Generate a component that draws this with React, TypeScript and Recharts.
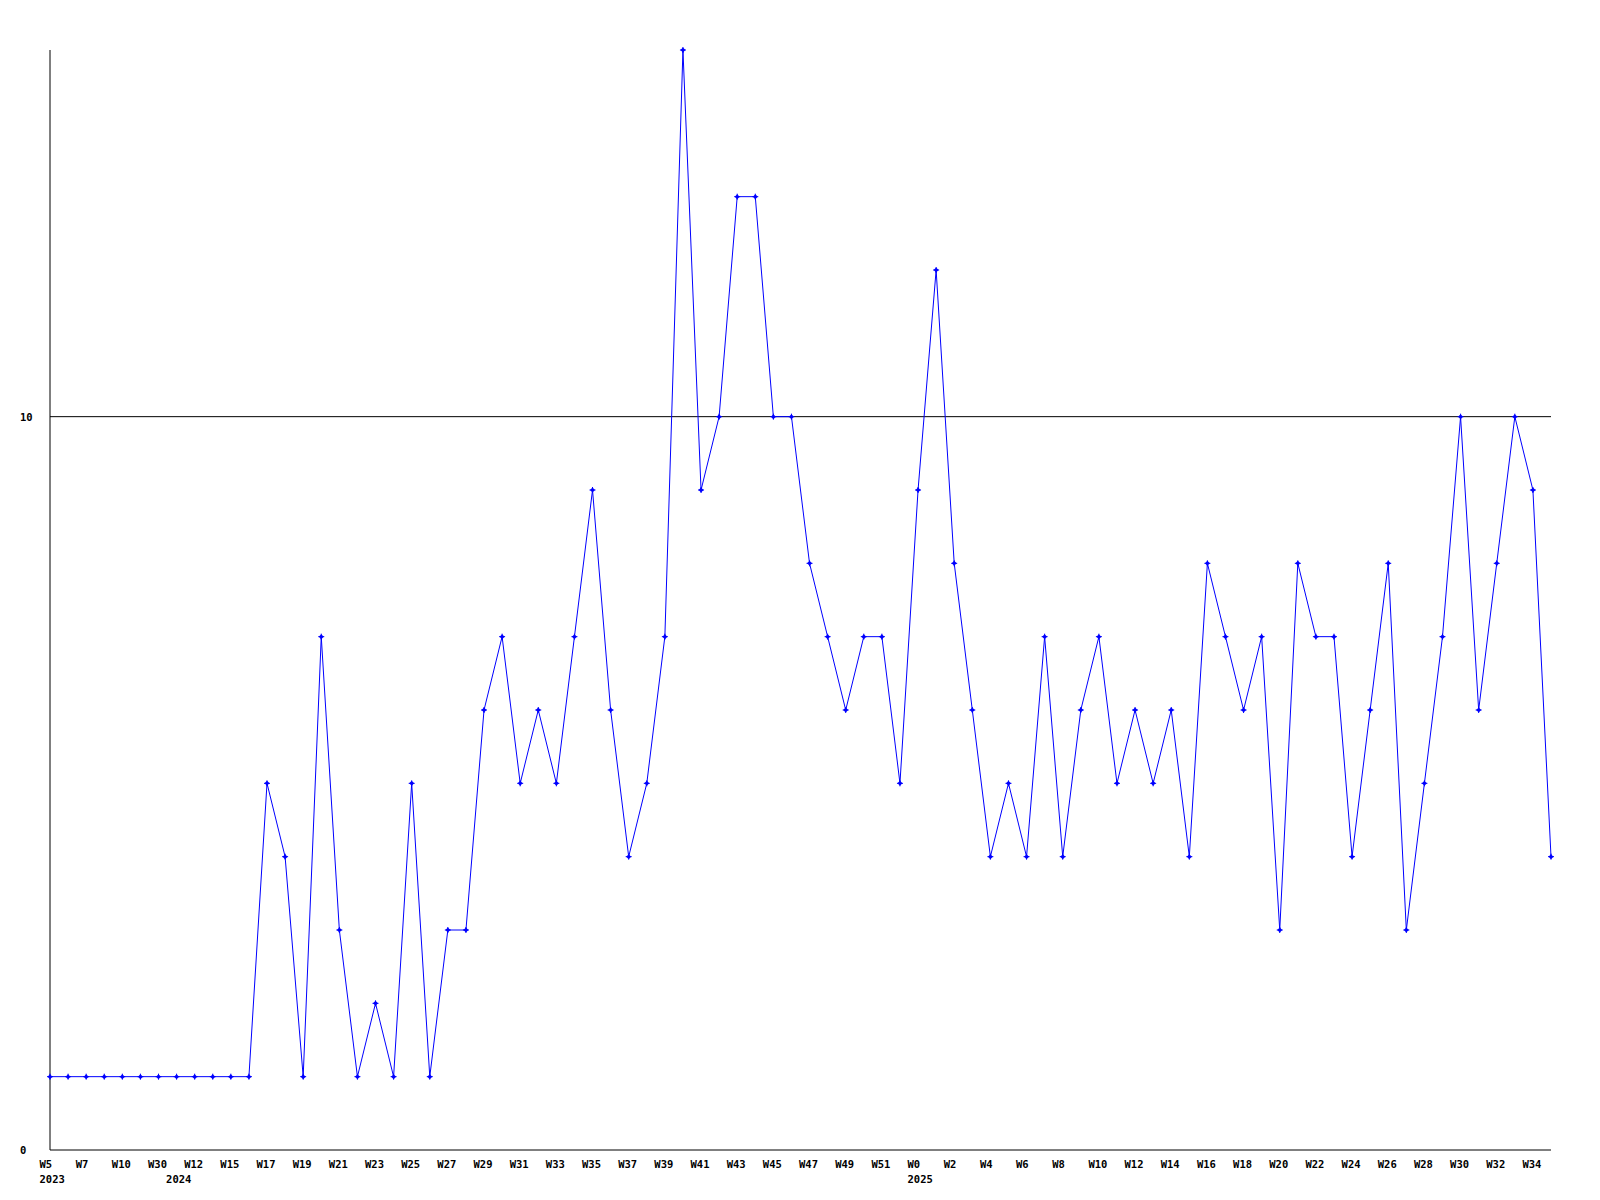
import { Line, LineChart, ReferenceLine, XAxis, YAxis } from "recharts";

// week labels per point (every other one shown on the axis)
const weeks = [
  "W5", "W6", "W7", "W8", "W10", "W12", "W30",
  "W11", "W12", "W13", "W15", "W16", "W17", "W18", "W19", "W20", "W21", "W22", "W23", "W24",
  "W25", "W26", "W27", "W28", "W29", "W30", "W31", "W32", "W33", "W34", "W35", "W36",
  "W37", "W38", "W39", "W40", "W41", "W42", "W43", "W44", "W45", "W46", "W47", "W48",
  "W49", "W50", "W51", "W52",
  "W0", "W1", "W2", "W3", "W4", "W5", "W6", "W7", "W8", "W9", "W10", "W11", "W12", "W13",
  "W14", "W15", "W16", "W17", "W18", "W19", "W20", "W21", "W22", "W23", "W24", "W25", "W26",
  "W27", "W28", "W29", "W30", "W31", "W32", "W33", "W34", "W35"
];

const years = [
  ...Array(7).fill("2023"),
  ...Array(41).fill("2024"),
  ...Array(36).fill("2025")
];

const counts = [
  1, 1, 1, 1, 1, 1, 1, 1, 1, 1, 1, 1,
  5, 4, 1, 7, 3, 1, 2, 1, 5, 1, 3, 3, 6, 7, 5, 6, 5, 7, 9, 6, 4, 5, 7,
  15, 9, 10, 13, 13, 10, 10, 8, 7, 6, 7, 7, 5, 9, 12, 8, 6, 4, 5, 4, 7,
  4, 6, 7, 5, 6, 5, 6, 4, 8, 7, 6, 7, 3, 8, 7, 7, 4, 6, 8, 3, 5, 7,
  10, 6, 8, 10, 9, 4
];

const yTicks = [0, 10];

const rows = counts.map((value, i) => ({
  key: `${years[i]}-${weeks[i]}-${i}`,
  week: weeks[i],
  year: years[i],
  value
}));

const fontFamily = "'DejaVu Sans Mono', monospace";

function WeekTick(props: any) {
  const { x, payload } = props;
  const i = rows.findIndex((r) => r.key === payload.value);
  const row = rows[i];
  if (!row) return null;
  const showWeek = i % 2 === 0;
  const showYear = i === 0 || rows[i - 1].year !== row.year;
  return (
    <g>
      {showWeek ? (
        <text x={x - 10.5} y={1167.5} fontSize={10.5} fontWeight="bold" fontFamily={fontFamily} fill="#000" textAnchor="start">
          {row.week}
        </text>
      ) : null}
      {showYear ? (
        <text x={x - 10.5} y={1183} fontSize={10.5} fontWeight="bold" fontFamily={fontFamily} fill="#000" textAnchor="start">
          {row.year}
        </text>
      ) : null}
    </g>
  );
}

function CountTick(props: any) {
  const { y, payload } = props;
  return (
    <text x={20} y={y + 4} fontSize={10.5} fontWeight="bold" fontFamily={fontFamily} fill="#000" textAnchor="start">
      {payload.value}
    </text>
  );
}

function Marker(props: any) {
  const { cx, cy } = props;
  if (cx == null || cy == null) return null;
  return (
    <g>
      <path d={`M${cx - 2.5},${cy} L${cx},${cy - 2.5} L${cx + 2.5},${cy} L${cx},${cy + 2.5} Z`} fill="#0000ff" />
      <path d={`M${cx - 3},${cy} L${cx + 3},${cy} M${cx},${cy - 3} L${cx},${cy + 3}`} stroke="#0000ff" strokeWidth={1} />
    </g>
  );
}

export default function App() {
  return (
    <div style={{ position: "absolute", left: 0, top: 0, width: 1600, height: 1200, background: "#fff" }}>
      <LineChart width={1600} height={1200} data={rows} margin={{ top: 50, right: 49, bottom: 10, left: 10 }}>
        <XAxis
          dataKey="key"
          height={40}
          interval={0}
          tickLine={false}
          tickSize={0}
          tickMargin={0}
          axisLine={{ stroke: "#000", strokeWidth: 1 }}
          tick={<WeekTick />}
        />
        <YAxis
          width={40}
          domain={[0, 15]}
          ticks={yTicks}
          tickLine={false}
          axisLine={{ stroke: "#000", strokeWidth: 1 }}
          tick={<CountTick />}
        />
        <ReferenceLine y={10} stroke="#000" strokeWidth={1} />
        <Line
          type="linear"
          dataKey="value"
          stroke="#0000ff"
          strokeWidth={1}
          dot={<Marker />}
          activeDot={false}
          isAnimationActive={false}
        />
      </LineChart>
    </div>
  );
}
